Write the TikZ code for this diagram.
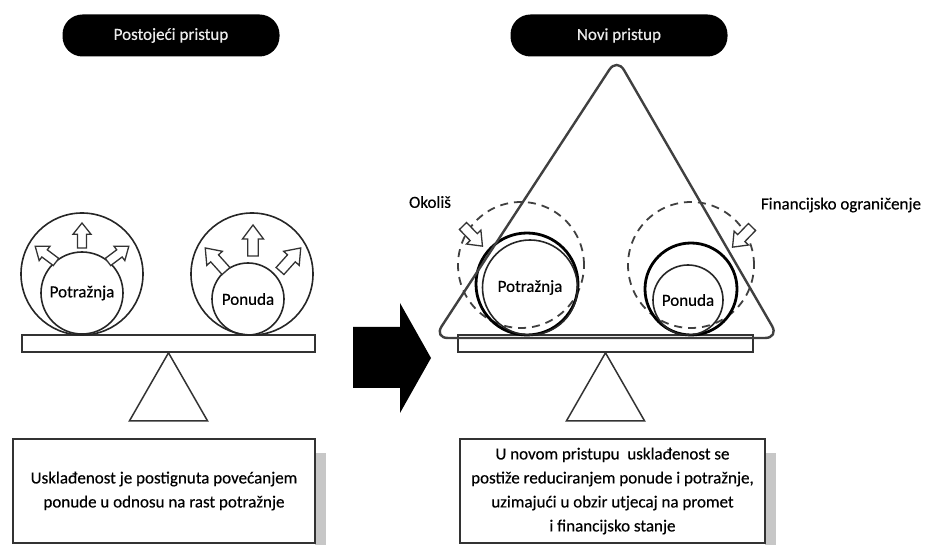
\documentclass[tikz,border=0pt]{standalone}
\usepackage{fontspec}
\setmainfont{Carlito}[BoldFont=Carlito, BoldFeatures={FakeBold=0.4}]
\usetikzlibrary{shapes.geometric}
\begin{document}
\begin{tikzpicture}[x=1pt,y=-1pt,
  txt/.style={font=\fontsize{17}{24}\selectfont\bfseries},
  pill/.style={fill=black, text=white!92!black, rounded corners=20pt, minimum width=217pt,
    minimum height=42pt, inner sep=0pt, txt},
  ring/.style={circle, draw=black!85, line width=1.6pt, inner sep=0pt},
  thickring/.style={circle, draw=black, line width=2.8pt, inner sep=0pt},
  dashring/.style={circle, draw=black!75, line width=1.8pt, dash pattern=on 8pt off 6pt, inner sep=0pt},
  beam/.style={draw=black!80, line width=1.6pt, fill=white, inner sep=0pt, minimum height=17pt},
  fulcrum/.style={draw=black!80, line width=1.5pt, line join=miter},
  arrowline/.style={draw=black!80, line width=1.3pt, fill=white, line join=miter},
  textbox/.style={draw=black!80, line width=1.6pt, fill=white, align=center, inner sep=4pt, txt},
  shade/.style={fill=black!22, draw=none},
  pics/harrow/.style 2 args={code={
    \path[arrowline] (0,{-0.25*#2}) -- ({0.55*#1},{-0.25*#2}) -- ({0.55*#1},{-0.5*#2})
      -- (#1,0) -- ({0.55*#1},{0.5*#2}) -- ({0.55*#1},{0.25*#2}) -- (0,{0.25*#2}) -- cycle;
  }}
]
\useasboundingbox (0,0) rectangle (927,545);

% ---------- headers ----------
\node[pill] (hdrL) at (171,35.5) {Postojeći pristup};
\node[pill] (hdrR) at (619,35.5) {Novi pristup};

% ---------- existing approach: balance ----------
\node[beam, minimum width=293pt] (beamL) at (168.5,343.5) {};
\draw[fulcrum] (beamL.south) -- ++(39,68) -- ++(-78,0) -- cycle;

\node[ring, minimum size=122pt] (outerD) at (82,274) {};
\node[ring, minimum size=82pt, txt] (demL) at (82,293) {\raisebox{-2pt}{Potražnja}};
\node[ring, minimum size=122pt] (outerS) at (252,274) {};
\node[ring, minimum size=72pt, txt] (supL) at (248,299) {Ponuda};

% growth arrows
\pic[rotate=90]  at (82,248)  {harrow={25}{18}};
\pic[rotate=143] at (56,262)  {harrow={26}{18}};
\pic[rotate=37]  at (108,262) {harrow={26}{18}};
\pic[rotate=90]  at (253,256) {harrow={31}{21}};
\pic[rotate=132] at (226,271) {harrow={31}{21}};
\pic[rotate=48]  at (280,271) {harrow={31}{21}};

% ---------- big transition arrow ----------
\fill[black] (353,327) -- (400,327) -- (400,303) -- (431,358) -- (400,413)
  -- (400,388) -- (353,388) -- cycle;

% ---------- new approach ----------
\node[beam, minimum width=295pt] (beamR) at (605.5,343.5) {};
\draw[fulcrum] (beamR.south) -- ++(39,68) -- ++(-78,0) -- cycle;

\node[dashring, minimum size=126pt] (envC) at (521,265) {};
\node[dashring, minimum size=126pt] (finC) at (691,265) {};

\node[thickring, minimum size=102pt] (demR) at (527,284) {};
\node[ring, minimum size=95pt, txt] (demRin) at (530,287.5) {\raisebox{-7pt}{Potražnja}};
\node[thickring, minimum size=92pt] (supR) at (691,289) {};
\node[ring, minimum size=70pt, txt] (supRin) at (688,300) {Ponuda};

\draw[draw=black!75, line width=2.4pt, rounded corners=14pt]
  (606,338) -- (434,338) -- (617,58) -- (779,338) -- cycle;

\pic[rotate=-46]  at (463,226) {harrow={28}{20}};
\pic[rotate=-134] at (752,227) {harrow={28}{20}};

\node[txt, inner sep=0pt] (okolis) at (430,202) {Okoliš};
\node[txt, inner sep=0pt] (financ) at (841,205) {Financijsko ograničenje};

% ---------- explanation boxes ----------
\fill[shade] (315,453) rectangle (326,545);
\fill[shade] (765,453) rectangle (776,545);
\node[textbox, minimum width=302pt, minimum height=104pt] (boxL) at (164,491)
  {Usklađenost je postignuta povećanjem\\ponude u odnosu na rast potražnje};
\node[textbox, minimum width=305pt, minimum height=104pt] (boxR) at (612.5,491)
  {U novom pristupu \ usklađenost se\\postiže reduciranjem ponude i potražnje,\\uzimajući u obzir utjecaj na promet\\i financijsko stanje};
\end{tikzpicture}
\end{document}
